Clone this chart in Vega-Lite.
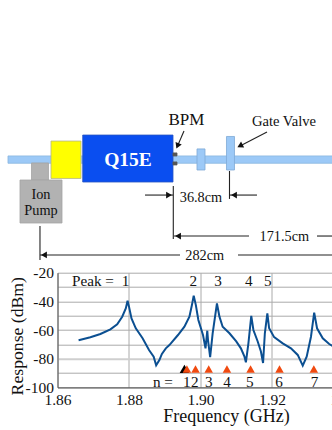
{"$schema":"https://vega.github.io/schema/vega-lite/v6.json","width":286,"height":114.6,"autosize":"none","padding":{"left":57.5,"top":272.7,"right":0,"bottom":42.7},"background":"white","view":{"stroke":null},
"encoding":{
"x":{"field":"f","type":"quantitative","scale":{"domain":[1.86,1.94],"nice":false,"zero":false},"axis":{"values":[1.86,1.88,1.9,1.92,1.94],"format":".2f","labelFlush":false,"labelOverlap":false,"title":"Frequency (GHz)","titleFont":"Liberation Serif","titleFontSize":18,"titleFontWeight":"normal","titleColor":"#111","titleX":168.5,"titleY":29.4,"titleAlign":"center","titleBaseline":"middle","labelFont":"Liberation Serif","labelFontSize":15.5,"labelColor":"#111","labelPadding":5,"ticks":false,"domainColor":"#555","gridColor":"#aaa","grid":true}},
"y":{"field":"db","type":"quantitative","scale":{"domain":[-100,-20],"nice":false,"zero":false},"axis":{"values":[-100,-90,-80,-70,-60,-50,-40,-30,-20],"labelExpr":"datum.value % 20 == 0 ? '' + datum.value : ''","labelOverlap":false,"title":"Response (dBm)","titleFont":"Liberation Serif","titleFontSize":17.7,"titleFontWeight":"normal","titleColor":"#111","titleX":-40,"titleY":63,"titleAlign":"center","titleBaseline":"middle","labelFont":"Liberation Serif","labelFontSize":15.5,"labelColor":"#111","labelPadding":4,"ticks":false,"domainColor":"#555","grid":true,"gridColor":{"condition":{"test":"datum.value === -80","value":"#cfcfcf"},"value":"#aaa"},"gridWidth":{"condition":{"test":"datum.value === -80","value":2},"value":1}}}
},
"layer":[
{"data":{"values":[
{"part":"pipe","f":1.84615,"f2":1.94,"db":61.5,"db2":56.4},
{"part":"flange","f":1.89902,"f2":1.90126,"db":66.4,"db2":51.7},
{"part":"flange","f":1.90727,"f2":1.90951,"db":75.1,"db2":51.7},
{"part":"pump","f":1.85273,"f2":1.85748,"db":56.6,"db2":44.7},
{"part":"pump","f":1.84951,"f2":1.86126,"db":44.7,"db2":14.7},
{"part":"yellow","f":1.85818,"f2":1.86657,"db":71.9,"db2":45.8},
{"part":"magnet","f":1.86705,"f2":1.89231,"db":76.1,"db2":43.3},
{"part":"bpm","f":1.89231,"f2":1.89343,"db":63.6,"db2":61.5},
{"part":"bpm","f":1.89231,"f2":1.89343,"db":57.3,"db2":55.2}
]},
"mark":{"type":"rect","strokeWidth":0.8},
"encoding":{"x2":{"field":"f2"},"y2":{"field":"db2"},
"fill":{"field":"part","type":"nominal","legend":null,"scale":{"domain":["pipe","flange","pump","yellow","magnet","bpm"],"range":["#9cc9f7","#9cc9f7","#b2b2b2","#ffff00","#0a4ef0","#555555"]}},
"stroke":{"field":"part","type":"nominal","legend":null,"scale":{"domain":["pipe","flange","pump","yellow","magnet","bpm"],"range":["#8ab6e0","#7fa9d6","#a5a5a5","#b5b58a","#2a55c0","#555555"]}}}},
{"data":{"values":[
{"f":1.89239,"f2":1.89239,"db":40.5,"db2":3.5},
{"f":1.90811,"f2":1.90811,"db":51,"db2":31.5},
{"f":1.8551,"f2":1.8551,"db":12.6,"db2":-11.1},
{"f":1.88448,"f2":1.89231,"db":34.2,"db2":34.2},
{"f":1.90825,"f2":1.9158,"db":34.2,"db2":34.2},
{"f":1.89259,"f2":1.91357,"db":5.6,"db2":5.6},
{"f":1.93259,"f2":1.94,"db":5.6,"db2":5.6},
{"f":1.8551,"f2":1.89427,"db":-7.6,"db2":-7.6},
{"f":1.91049,"f2":1.94,"db":-7.6,"db2":-7.6},
{"f":1.89538,"f2":1.89357,"db":78.9,"db2":68.5},
{"f":1.9186,"f2":1.91105,"db":78.2,"db2":68.5}
]},
"mark":{"type":"rule","color":"#222","strokeWidth":1.1},
"encoding":{"x2":{"field":"f2"},"y2":{"field":"db2"}}},
{"data":{"values":[{"f":1.89119,"db":34.2}]},"mark":{"type":"point","shape":"triangle-right","filled":true,"color":"#111","size":45,"opacity":1},"encoding":{}},
{"data":{"values":[{"f":1.90937,"db":34.2},{"f":1.89371,"db":5.6},{"f":1.85622,"db":-7.6}]},"mark":{"type":"point","shape":"triangle-left","filled":true,"color":"#111","size":45,"opacity":1},"encoding":{}},
{"data":{"values":[{"f":1.89357,"db":68.5}]},"mark":{"type":"point","shape":"triangle-up","angle":203,"filled":true,"color":"#111","size":45,"opacity":1},"encoding":{}},
{"data":{"values":[{"f":1.91105,"db":68.5}]},"mark":{"type":"point","shape":"triangle-up","angle":243,"filled":true,"color":"#111","size":45,"opacity":1},"encoding":{}},
{"data":{"values":[{"label":"Q15E","f":1.87972,"db":58.7}]},"mark":{"type":"text","font":"Liberation Serif","fontWeight":"bold","fontSize":19.5,"color":"white"},"encoding":{"text":{"field":"label"}}},
{"data":{"values":[{"label":"BPM","f":1.89608,"db":86.6}]},"mark":{"type":"text","font":"Liberation Serif","fontSize":17,"color":"#111"},"encoding":{"text":{"field":"label"}}},
{"data":{"values":[{"label":"Gate Valve","f":1.92336,"db":85.2}]},"mark":{"type":"text","font":"Liberation Serif","fontSize":14.6,"color":"#111"},"encoding":{"text":{"field":"label"}}},
{"data":{"values":[
{"label":"Ion","f":1.85538,"db":34.2},{"label":"Pump","f":1.85538,"db":23.1},
{"label":"36.8cm","f":1.90014,"db":32.4},{"label":"171.5cm","f":1.92344,"db":5.1},{"label":"282cm","f":1.90117,"db":-8.3}
]},"mark":{"type":"text","font":"Liberation Serif","fontSize":14.3,"color":"#111"},"encoding":{"text":{"field":"label"}}},
{"data":{"values":[
{"f":1.8659,"db":-67.2},{"f":1.8692,"db":-65.1},{"f":1.872,"db":-62.8},{"f":1.8748,"db":-59.5},{"f":1.8767,"db":-56},{"f":1.8781,"db":-50.7},{"f":1.8791,"db":-44.9},{"f":1.8796,"db":-39.5},{"f":1.88,"db":-43.7},{"f":1.8807,"db":-51.9},{"f":1.8819,"db":-58.8},{"f":1.8838,"db":-65.8},{"f":1.8856,"db":-74},{"f":1.8869,"db":-78.6},{"f":1.8876,"db":-84.7},{"f":1.8885,"db":-81},{"f":1.8892,"db":-76.7},{"f":1.8903,"db":-72.8},{"f":1.8913,"db":-70.5},{"f":1.8937,"db":-63.5},{"f":1.8955,"db":-57.7},{"f":1.8969,"db":-50.7},{"f":1.8976,"db":-42.6},{"f":1.8981,"db":-36},{"f":1.8987,"db":-42.6},{"f":1.8994,"db":-53},{"f":1.9007,"db":-63.5},{"f":1.9014,"db":-72.8},{"f":1.9019,"db":-60.5},{"f":1.9021,"db":-67},{"f":1.9027,"db":-79},{"f":1.9034,"db":-62.3},{"f":1.9046,"db":-41.4},{"f":1.9053,"db":-50.7},{"f":1.9062,"db":-57.7},{"f":1.9081,"db":-62.3},{"f":1.91,"db":-68},{"f":1.9113,"db":-72.8},{"f":1.9123,"db":-78.6},{"f":1.9127,"db":-82.6},{"f":1.9134,"db":-69.3},{"f":1.9142,"db":-50.2},{"f":1.9148,"db":-60},{"f":1.916,"db":-68},{"f":1.9169,"db":-75},{"f":1.9175,"db":-83},{"f":1.918,"db":-62.3},{"f":1.9187,"db":-48.4},{"f":1.9192,"db":-58.8},{"f":1.9206,"db":-65},{"f":1.923,"db":-69.3},{"f":1.9253,"db":-72.8},{"f":1.9272,"db":-77.4},{"f":1.9286,"db":-84.9},{"f":1.9297,"db":-78.6},{"f":1.9309,"db":-64.7},{"f":1.9318,"db":-47.9},{"f":1.9326,"db":-58.8},{"f":1.9342,"db":-65.8},{"f":1.936,"db":-69.8},{"f":1.9369,"db":-71}
]},"mark":{"type":"line","color":"#0b4f91","strokeWidth":2},"encoding":{}},
{"data":{"values":[{"f":1.8955,"db":-87.2}]},"mark":{"type":"point","shape":"triangle-up","filled":true,"color":"#000","size":90,"opacity":1},"encoding":{}},
{"data":{"values":[{"f":1.8962,"db":-87.2},{"f":1.8986,"db":-87.2},{"f":1.9023,"db":-87.2},{"f":1.9074,"db":-87.2},{"f":1.914,"db":-87.2},{"f":1.9221,"db":-87.2},{"f":1.9317,"db":-87.2}]},"mark":{"type":"point","shape":"triangle-up","filled":true,"color":"#f04a10","size":72,"opacity":1},"encoding":{}},
{"data":{"values":[
{"label":"Peak =","f":1.8699,"db":-25.6},{"label":"1","f":1.879,"db":-25.6},{"label":"2","f":1.898,"db":-25.6},{"label":"3","f":1.9049,"db":-25.6},{"label":"4","f":1.9135,"db":-25.6},{"label":"5","f":1.9188,"db":-25.6},
{"label":"n =","f":1.8895,"db":-96.3},{"label":"1","f":1.8962,"db":-96.3},{"label":"2","f":1.8984,"db":-96.3},{"label":"3","f":1.9023,"db":-96.3},{"label":"4","f":1.9074,"db":-96.3},{"label":"5","f":1.9138,"db":-96.3},{"label":"6","f":1.922,"db":-96.3},{"label":"7","f":1.9319,"db":-96.3}
]},"mark":{"type":"text","font":"Liberation Serif","fontSize":15.2,"color":"#111"},"encoding":{"text":{"field":"label"}}}
]}
